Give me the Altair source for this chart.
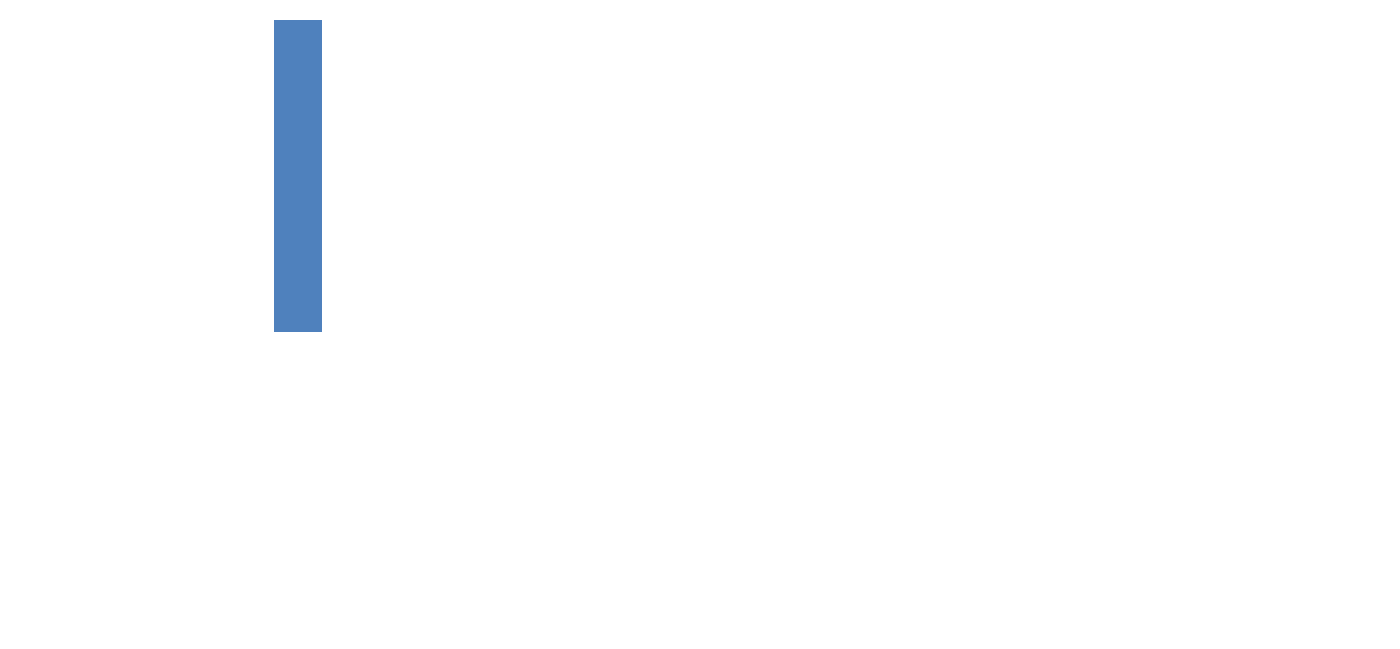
import altair as alt
import pandas as pd

categories = ["A"]
values = [100]

df = pd.DataFrame({"category": categories, "value": values})

chart = (
    alt.Chart(df)
    .mark_bar(color="#4F81BD")
    .encode(
        x=alt.X("category:N", axis=None,
                scale=alt.Scale(paddingInner=0, paddingOuter=0)),
        y=alt.Y("value:Q", axis=None, scale=alt.Scale(domain=[0, 100], nice=False)),
    )
    .properties(
        width=48,
        height=312,
        padding={"left": 266, "top": 12, "right": 0, "bottom": 0},
    )
    .configure_view(stroke=None)
)

chart.save("out.html", embed_options={"renderer": "svg", "actions": False})
